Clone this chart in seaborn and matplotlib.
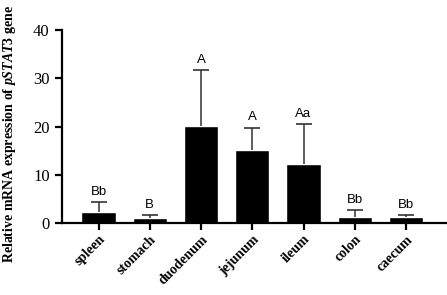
import numpy as np
import pandas as pd
import seaborn as sns
import matplotlib
matplotlib.use('Agg')
import matplotlib.pyplot as plt

tissues = ['spleen', 'stomach', 'duodenum', 'jejunum', 'ileum', 'colon', 'caecum']
means = [2.3, 1.1, 20.2, 15.1, 12.3, 1.25, 1.3]
sds = [2.1, 0.5, 11.5, 4.7, 8.2, 1.45, 0.3]
letters = ['Bb', 'B', 'A', 'A', 'Aa', 'Bb', 'Bb']

df = pd.DataFrame({'tissue': tissues, 'expr': means})
tops = np.array(means) + np.array(sds)

sns.set_style('ticks', {'axes.edgecolor': 'black', 'text.color': 'black',
                        'axes.labelcolor': 'black', 'xtick.color': 'black',
                        'ytick.color': 'black'})
plt.rcParams['font.family'] = ['Liberation Serif', 'DejaVu Serif']
plt.rcParams['mathtext.fontset'] = 'custom'
plt.rcParams['mathtext.it'] = 'Liberation Serif:italic:bold'
plt.rcParams['mathtext.rm'] = 'Liberation Serif:bold'

fig = plt.figure(figsize=(4.47, 2.95), dpi=100)
ax = fig.add_axes([0.139, 0.244, 0.861, 0.654])

sns.barplot(data=df, x='tissue', y='expr', color='black', width=0.67,
            errorbar=None, saturation=1, ax=ax)
xs = np.arange(len(tissues))
# upper-only error bars: stem from the bar top, cap only at the top
ax.vlines(xs, means, tops, color='#333333', lw=1.1, zorder=3)
ax.plot(xs, tops, ls='none', marker='_', ms=12, mew=1.2, color='#333333', zorder=3)

for x, t, lab in zip(xs, tops, letters):
    ax.annotate(lab, (x, t), xytext=(0, 3), textcoords='offset points',
                ha='center', va='bottom', fontsize=9.5,
                family='Liberation Sans', color='black')

ax.set_ylim(0, 40)
ax.set_yticks([0, 10, 20, 30, 40])
ax.set_xlim(-0.71, 6.8)
ax.set_xlabel('')
ax.set_ylabel(r'Relative mRNA expression of $\mathit{pSTAT3}$ gene',
              fontsize=10, fontweight='bold', color='black')
ax.yaxis.set_label_coords(-0.115, 0.46)

for sp in ['top', 'right']:
    ax.spines[sp].set_visible(False)
for sp in ['left', 'bottom']:
    ax.spines[sp].set_linewidth(1.6)
    ax.spines[sp].set_color('black')
ax.tick_params(axis='both', width=1.6, length=5, direction='out', colors='black')
ax.tick_params(axis='y', labelsize=12, pad=4)
ax.tick_params(axis='x', pad=2)
plt.setp(ax.get_xticklabels(), rotation=45, ha='right', rotation_mode='anchor',
         fontweight='bold', fontsize=10)

fig.savefig('out.png', dpi=100)
